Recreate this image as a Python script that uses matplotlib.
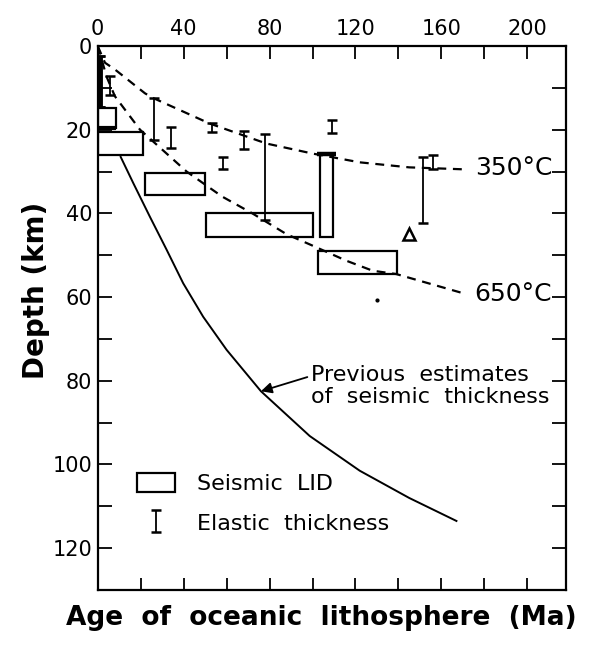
import numpy as np
import matplotlib
matplotlib.use('Agg')
import matplotlib.pyplot as plt
from matplotlib.patches import Rectangle, Patch
from matplotlib.ticker import FixedLocator, FuncFormatter

plt.rcParams['font.family'] = ['DejaVu Sans']

# isotherms (age Ma, depth km)
age_350 = [0, 3.4, 8, 22, 25.7, 52, 78.5, 100, 122, 145, 172]
depth_350 = [0, 4.0, 5.6, 11.3, 12.4, 18.5, 23.3, 25.7, 27.8, 29.0, 29.5]
age_650 = [0, 4.2, 8, 19.7, 41.4, 50.5, 58, 72, 88, 100, 115.7, 128, 139, 171.6]
depth_650 = [0, 7.4, 12.0, 20.0, 30.0, 33.3, 36.0, 40.0, 45.0, 47.7, 51.3, 53.7, 54.5, 59.3]

# previous estimates of seismic thickness
age_prev = [10.7, 16.6, 24.3, 32.1, 39.8, 49.1, 60, 76, 98.7, 122, 145, 167]
depth_prev = [26.5, 32.8, 40.8, 48.7, 56.7, 64.7, 72.6, 82.5, 93.2, 101.5, 108.0, 113.5]

# seismic LID boxes
lid_age_min = [0, 0, 22.2, 50.6, 102.6, 103.6]
lid_age_max = [8.5, 21, 50, 100.4, 139.5, 109.4]
lid_top = [14.8, 20.5, 30.4, 39.8, 48.9, 25.8]
lid_bottom = [19.7, 26.0, 35.6, 45.7, 54.5, 45.7]

# elastic thickness bars
el_age = [1, 5.7, 26.3, 34, 53, 58.4, 68.2, 78, 109, 151.5, 156]
el_top = [2.5, 7.2, 12.5, 19.3, 18.5, 26.5, 20.3, 21.0, 17.7, 26.5, 26.0]
el_bottom = [14.6, 11.7, 22.5, 24.4, 20.5, 29.3, 24.5, 41.6, 20.9, 42.4, 29.3]

# other points
tri_age, tri_depth = [144.8], [45.0]
dot_age, dot_depth = [129.8], [60.8]

fig = plt.figure(figsize=(5.91, 6.48), dpi=100)
ax = fig.add_axes([0.1653, 0.0895, 0.7924, 0.8395])

lw = 1.6
ax.plot(age_350, depth_350, color='black', lw=lw, ls=(0, (4, 3)))
ax.plot(age_650, depth_650, color='black', lw=lw, ls=(0, (4, 3)))
ax.plot(age_prev, depth_prev, color='black', lw=1.4)

for a0, a1, t, b in zip(lid_age_min, lid_age_max, lid_top, lid_bottom):
    ax.add_patch(Rectangle((a0, t), a1 - a0, b - t, fill=False,
                           edgecolor='black', lw=lw, zorder=3))
# heavy top edge of the narrow box
ax.plot([lid_age_min[5] - 1.5, lid_age_max[5] + 1.5], [lid_top[5], lid_top[5]],
        color='black', lw=3.2, solid_capstyle='butt', zorder=4)
# heavy bottom edge of the small box
ax.plot([lid_age_min[0], lid_age_max[0]], [lid_bottom[0], lid_bottom[0]],
        color='black', lw=3.0, solid_capstyle='butt', zorder=4)

el_age = np.array(el_age)
el_top = np.array(el_top)
el_bottom = np.array(el_bottom)
mid = (el_top + el_bottom) / 2
half = (el_bottom - el_top) / 2
eb = ax.errorbar(el_age, mid, yerr=half, fmt='none', ecolor='black',
                 elinewidth=1.3, capsize=3.5, capthick=1.8, zorder=5)
ax.errorbar(el_age[:1], mid[:1], yerr=half[:1], fmt='none', ecolor='black',
            elinewidth=3.5, capsize=3.5, capthick=1.8, zorder=5)

ax.plot(tri_age, tri_depth, marker='^', ms=9, mfc='white', mec='black',
        mew=1.8, ls='none', zorder=5)
ax.plot(dot_age, dot_depth, marker='o', ms=2, color='black', ls='none')

ax.text(175.5, 29.2, '350°C', fontsize=18, ha='left', va='center')
ax.text(175.5, 59.3, '650°C', fontsize=18, ha='left', va='center')

ax.annotate('Previous  estimates\nof  seismic  thickness', xy=(76, 82.5),
            xytext=(99.5, 81.3), ha='left', va='center', fontsize=16,
            linespacing=1.1,
            arrowprops=dict(arrowstyle='-|>', color='black', lw=1.3,
                            shrinkA=1, shrinkB=0, mutation_scale=16,
                            relpos=(0, 0.75)))

box = Patch(facecolor='white', edgecolor='black', lw=lw)
ax.legend(handles=[box, eb], labels=['Seismic  LID', 'Elastic  thickness'],
          loc='upper left', bbox_to_anchor=(0.084, 0.216), frameon=False,
          fontsize=16, handlelength=1.7, handleheight=0.95,
          handletextpad=1.0, labelspacing=0.85, borderpad=0,
          borderaxespad=0)

ax.set_xlim(0, 218)
ax.set_ylim(130, 0)

ax.xaxis.set_major_locator(FixedLocator(np.arange(0, 201, 20)))
ax.xaxis.set_major_formatter(FuncFormatter(
    lambda v, p: f'{int(v)}' if int(round(v)) % 40 == 0 else ''))
ax.yaxis.set_major_locator(FixedLocator(np.arange(0, 131, 10)))
ax.yaxis.set_major_formatter(FuncFormatter(
    lambda v, p: f'{int(v)}' if int(round(v)) % 20 == 0 and v < 125 else ''))

ax.tick_params(axis='x', direction='in', top=True, bottom=True,
               labeltop=True, labelbottom=False, length=9, width=1.3,
               labelsize=15, pad=5)
ax.tick_params(axis='y', direction='in', left=True, right=True,
               labelleft=True, labelright=False, length=10, width=1.3,
               labelsize=15, pad=4)
for s in ax.spines.values():
    s.set_linewidth(lw)

ax.set_ylabel('Depth (km)', fontsize=20, fontweight='bold')
ax.yaxis.set_label_coords(-0.102, 0.55)
ax.set_xlabel('Age  of  oceanic  lithosphere  (Ma)', fontsize=19,
              fontweight='bold')
ax.xaxis.set_label_coords(0.477, -0.027)

fig.savefig('out.png', dpi=100)
